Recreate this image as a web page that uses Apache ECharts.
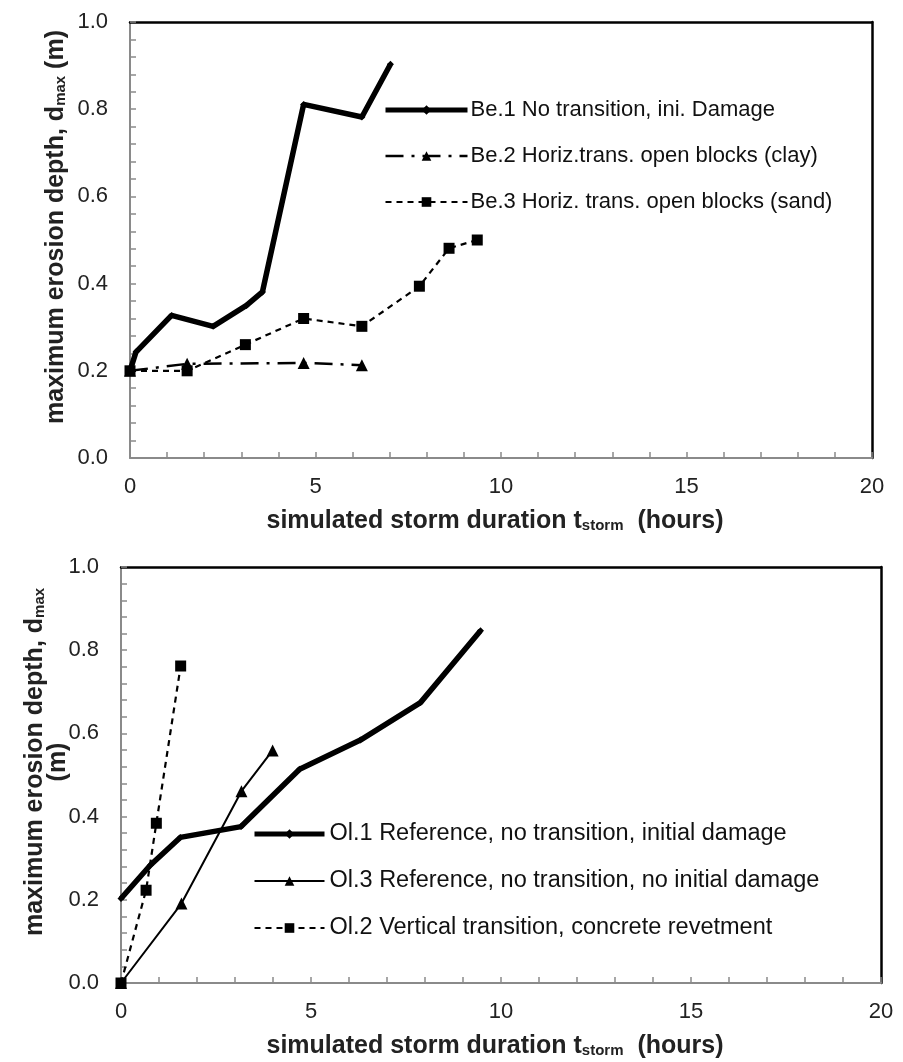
<!DOCTYPE html>
<html>
<head>
<meta charset="utf-8">
<script src="https://cdn.jsdelivr.net/npm/echarts@6/dist/echarts.min.js"></script>
<style>
html,body{margin:0;padding:0;background:#fff;}
#c{width:903px;height:1062px;}
</style>
</head>
<body>
<div id="c"></div>
<script>
// ---- Top chart data (hours, m) ----
const be1Time = [0, 0.16, 1.12, 2.24, 3.14, 3.57, 4.68, 6.25, 7.02];
const be1Depth = [0.20, 0.243, 0.327, 0.302, 0.35, 0.381, 0.811, 0.782, 0.903];
const be2Time = [0, 1.54, 4.68, 6.25];
const be2Depth = [0.20, 0.216, 0.218, 0.213];
const be3Time = [0, 1.54, 3.11, 4.68, 6.25, 7.80, 8.60, 9.36];
const be3Depth = [0.20, 0.20, 0.26, 0.32, 0.302, 0.394, 0.481, 0.50];

// ---- Bottom chart data ----
const ol1Time = [0, 0.77, 1.56, 3.16, 4.70, 6.30, 7.88, 9.46];
const ol1Depth = [0.203, 0.283, 0.35, 0.376, 0.514, 0.584, 0.674, 0.847];
const ol3Time = [0, 1.59, 3.17, 3.99];
const ol3Depth = [0, 0.191, 0.461, 0.559];
const ol2Time = [0, 0.66, 0.93, 1.57];
const ol2Depth = [0, 0.223, 0.384, 0.762];

const xTicks = [0, 5, 10, 15, 20];
const yTicks = [0.0, 0.2, 0.4, 0.6, 0.8, 1.0];

const names = {
  be1: 'Be.1 No transition, ini. Damage',
  be2: 'Be.2 Horiz.trans. open blocks (clay)',
  be3: 'Be.3 Horiz. trans. open blocks (sand)',
  ol1: 'Ol.1 Reference, no transition, initial damage',
  ol3: 'Ol.3 Reference, no transition, no initial damage',
  ol2: 'Ol.2 Vertical transition, concrete revetment'
};

function pairs(xs, ys){ return xs.map((x,i)=>[x, ys[i]]); }

const FONT = '"Liberation Sans", Arial, sans-serif';
const GRAY = '#8a8a8a';

const richName = {
  a: {fontFamily: FONT, fontWeight: 'bold', fontSize: 25, color: '#222', lineHeight: 23},
  s: {fontFamily: FONT, fontWeight: 'bold', fontSize: 15, color: '#222', verticalAlign: 'bottom', lineHeight: 23, padding: [10,0,0,0]}
};

function mainX(gi){
  return {
    type: 'value', gridIndex: gi, min: xTicks[0], max: xTicks[xTicks.length-1], interval: 5,
    axisLine: {show: true, onZero: false, lineStyle: {color: GRAY, width: 2}},
    axisTick: {show: true, inside: true, length: 6, lineStyle: {color: GRAY, width: 1.5}},
    minorTick: {show: true, splitNumber: 5, length: 6, lineStyle: {color: GRAY, width: 1.5}},
    splitLine: {show: false},
    axisLabel: {fontFamily: FONT, fontSize: 22, color: '#222', margin: 18},
    name: '{a|simulated storm duration t}{s|storm}{a|  (hours)}',
    nameLocation: 'middle', nameGap: 52, nameMoveOverlap: false,
    nameTextStyle: {rich: richName, padding: [0, 12, 0, 0]}
  };
}
function mainY(gi, name, gap){
  return {
    type: 'value', gridIndex: gi, min: yTicks[0], max: yTicks[yTicks.length-1], interval: 0.2,
    axisLine: {show: true, onZero: false, lineStyle: {color: GRAY, width: 2}},
    axisTick: {show: true, inside: true, length: 6, lineStyle: {color: GRAY, width: 1.5}},
    minorTick: {show: true, splitNumber: 5, length: 6, lineStyle: {color: GRAY, width: 1.5}},
    splitLine: {show: false},
    axisLabel: {fontFamily: FONT, fontSize: 22, color: '#222', margin: 22, formatter: v => v.toFixed(1)},
    name: name, nameLocation: 'middle', nameGap: gap, nameRotate: 90, nameMoveOverlap: false,
    nameTextStyle: {rich: richName, align: 'center', padding: [0, 0, 0, 26]}
  };
}
function borderX(gi){
  return {type: 'value', gridIndex: gi, position: 'top', min: 0, max: 20,
    axisLine: {show: true, onZero: false, lineStyle: {color: '#000', width: 2.5}},
    axisTick: {show: false}, axisLabel: {show: false}, splitLine: {show: false}};
}
function borderY(gi){
  return {type: 'value', gridIndex: gi, position: 'right', min: 0, max: 1,
    axisLine: {show: true, onZero: false, lineStyle: {color: '#000', width: 2.5}},
    axisTick: {show: false}, axisLabel: {show: false}, splitLine: {show: false}};
}

const option = {
  animation: false,
  backgroundColor: '#fff',
  grid: [
    {left: 130, top: 22, width: 742, height: 436},
    {left: 121, top: 567, width: 760, height: 416}
  ],
  xAxis: [mainX(0), mainX(1), borderX(0), borderX(1)],
  yAxis: [
    mainY(0, '{a|maximum erosion depth, d}{s|max}{a| (m)}', 62),
    mainY(1, '{a|maximum erosion depth, d}{s|max}\n{a|(m)}', 51),
    borderY(0), borderY(1)
  ],
  legend: [
    {
      orient: 'vertical', left: 383, top: 99, padding: 0, itemWidth: 82, itemHeight: 12, itemGap: 24,
      textStyle: {fontFamily: FONT, fontSize: 22, color: '#111', padding: [0,0,0,-2]},
      data: [
        {name: names.be1, lineStyle: {width: 5}},
        {name: names.be2, lineStyle: {width: 2.5}},
        {name: names.be3, lineStyle: {width: 2.2}}
      ]
    },
    {
      orient: 'vertical', left: 252, top: 822, padding: 0, itemWidth: 70, itemHeight: 12, itemGap: 23,
      textStyle: {fontFamily: FONT, fontSize: 23.5, color: '#111', padding: [0,0,0,0]},
      data: [
        {name: names.ol1, lineStyle: {width: 5}},
        {name: names.ol3, lineStyle: {width: 2}},
        {name: names.ol2, lineStyle: {width: 2.2}}
      ]
    }
  ],
  series: [
    {name: names.be1, type: 'line', xAxisIndex: 0, yAxisIndex: 0, data: pairs(be1Time, be1Depth),
      symbol: 'diamond', symbolSize: 7, color: '#000',
      lineStyle: {color: '#000', width: 5.5}, itemStyle: {color: '#000'}, z: 5},
    {name: names.be2, type: 'line', xAxisIndex: 0, yAxisIndex: 0, data: pairs(be2Time, be2Depth),
      symbol: 'triangle', symbolSize: 12, color: '#000',
      lineStyle: {color: '#000', width: 2.5, type: [18, 8, 3, 8]}, itemStyle: {color: '#000'}},
    {name: names.be3, type: 'line', xAxisIndex: 0, yAxisIndex: 0, data: pairs(be3Time, be3Depth),
      symbol: 'rect', symbolSize: 11, color: '#000',
      lineStyle: {color: '#000', width: 2.2, type: [6, 5]}, itemStyle: {color: '#000'}},

    {name: names.ol1, type: 'line', xAxisIndex: 1, yAxisIndex: 1, data: pairs(ol1Time, ol1Depth),
      symbol: 'diamond', symbolSize: 7, color: '#000',
      lineStyle: {color: '#000', width: 5.5}, itemStyle: {color: '#000'}, z: 5},
    {name: names.ol3, type: 'line', xAxisIndex: 1, yAxisIndex: 1, data: pairs(ol3Time, ol3Depth),
      symbol: 'triangle', symbolSize: 12, color: '#000',
      lineStyle: {color: '#000', width: 2}, itemStyle: {color: '#000'}},
    {name: names.ol2, type: 'line', xAxisIndex: 1, yAxisIndex: 1, data: pairs(ol2Time, ol2Depth),
      symbol: 'rect', symbolSize: 11, color: '#000',
      lineStyle: {color: '#000', width: 2.2, type: [6, 5]}, itemStyle: {color: '#000'}}
  ]
};

const chart = echarts.init(document.getElementById('c'), null, {renderer: 'canvas'});
chart.setOption(option);
</script>
</body>
</html>
